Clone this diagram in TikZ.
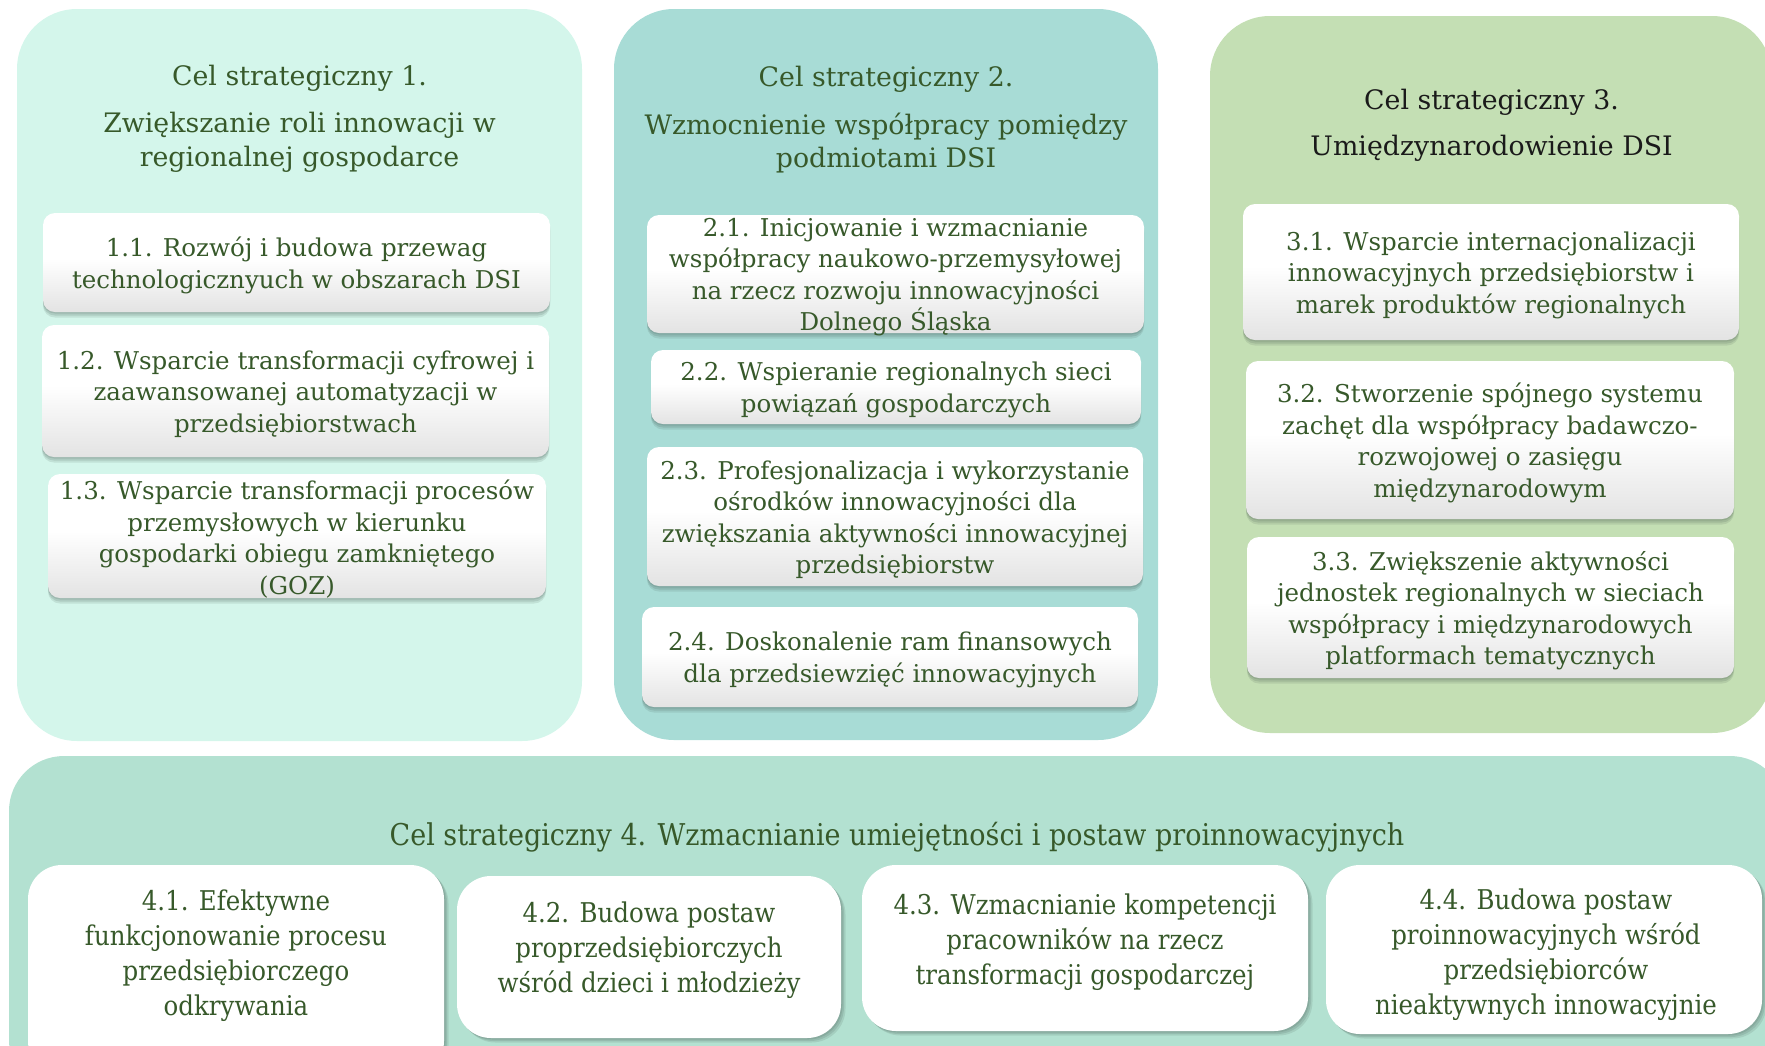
\documentclass[tikz,border=0pt]{standalone}
\usepackage{fontspec}
\setmainfont{DejaVu Serif}
\newfontfamily\bandfam{DejaVu Serif}[FakeStretch=0.9]
\usetikzlibrary{shadows}
\definecolor{pone}{HTML}{D4F6EB}
\definecolor{ptwo}{HTML}{A8DCD6}
\definecolor{pthree}{HTML}{C4DFB4}
\definecolor{pfour}{HTML}{B3E1D1}
\definecolor{txtgreen}{HTML}{37592A}
\definecolor{ttlblack}{HTML}{1A1A1A}
\definecolor{boxgray}{HTML}{E3E3E3}
\definecolor{shd}{HTML}{3A4A44}
\pgfdeclareverticalshading{boxshade}{100bp}{color(0bp)=(boxgray); color(25bp)=(boxgray); color(52bp)=(white); color(100bp)=(white)}
\newcommand\bxfont{\fontsize{24.5}{31.5}\selectfont}
\newcommand\ttlfont{\fontsize{26.8}{33.8}\selectfont}
\newcommand\bandtxt{\bandfam\fontsize{27.2}{34.9}\selectfont}
\newcommand\bandttl{\bandfam\fontsize{30}{36}\selectfont}
\tikzset{
  panel/.style={rounded corners=60pt, draw=none},
  softshadow/.style={
    general shadow={shadow xshift=0pt, shadow yshift=-1.5pt, fill=shd, opacity=0.14},
    general shadow={shadow xshift=0pt, shadow yshift=-3.5pt, fill=shd, opacity=0.14},
    general shadow={shadow xshift=0pt, shadow yshift=-5.5pt, fill=shd, opacity=0.12}},
  bandshadow/.style={
    general shadow={shadow xshift=1.5pt, shadow yshift=-1.5pt, fill=shd, opacity=0.14},
    general shadow={shadow xshift=3pt, shadow yshift=-3pt, fill=shd, opacity=0.14},
    general shadow={shadow xshift=4.5pt, shadow yshift=-4.5pt, fill=shd, opacity=0.12}},
  sbox/.style={rectangle, rounded corners=12pt, shading=boxshade, inner sep=0pt, softshadow},
  stxt/.style={font=\bxfont, text=txtgreen, align=center, inner sep=0pt, yshift=-3pt},
  bbox/.style={rectangle, rounded corners=34pt, fill=white, inner sep=0pt, bandshadow},
  btext/.style={align=center, font=\bandtxt, text=txtgreen, inner sep=0pt},
  ttl/.style={align=center, font=\ttlfont, text=txtgreen, inner sep=0pt}
}
\begin{document}
\begin{tikzpicture}[x=1pt,y=-1pt]
\path[use as bounding box] (0,0) rectangle (1765,1045);
\clip (0,0) rectangle (1765,1045);
% panels
\fill[panel, pone] (17,9) rectangle (582,741);
\fill[panel, ptwo] (614,9) rectangle (1158,740);
\fill[panel, pthree] (1210,16) rectangle (1772,733);
\fill[panel, rounded corners=55pt, pfour] (9,756) rectangle (1785,1095);
% titles
\node[ttl] (t1) at (299.5,119) {Cel strategiczny 1.\\[13.5pt]Zwiększanie roli innowacji w\\regionalnej gospodarce};
\node[ttl] (t2) at (886,120) {Cel strategiczny 2.\\[13.5pt]Wzmocnienie współpracy pomiędzy\\podmiotami DSI};
\node[ttl, text=ttlblack] (t3) at (1491.6,125.5) {Cel strategiczny 3.\\[12pt]Umiędzynarodowienie DSI};
\node[ttl, font=\bandttl] (t4) at (897,837.5) {Cel strategiczny 4. Wzmacnianie umiejętności i postaw proinnowacyjnych};
% column 1
\node[sbox, minimum width=507pt, minimum height=99pt] (b11) at (296.5,262.5) {};
\node[sbox, minimum width=507pt, minimum height=132pt] (b12) at (295.5,391) {};
\node[sbox, minimum width=498pt, minimum height=124pt] (b13) at (297,536) {};
% column 2
\node[sbox, minimum width=497pt, minimum height=118pt] (b21) at (895.5,274) {};
\node[sbox, minimum width=490pt, minimum height=74pt] (b22) at (896,387) {};
\node[sbox, minimum width=496pt, minimum height=139pt] (b23) at (895,516.5) {};
\node[sbox, minimum width=496pt, minimum height=100pt] (b24) at (890,657) {};
% column 3
\node[sbox, minimum width=496pt, minimum height=136pt] (b31) at (1491,272) {};
\node[sbox, minimum width=488pt, minimum height=158pt] (b32) at (1490,440) {};
\node[sbox, minimum width=487pt, minimum height=141pt] (b33) at (1490.5,607.5) {};
% texts of the upper boxes
\node[stxt] (x11) at (b11) {1.1. Rozwój i budowa przewag\\technologicznyuch w obszarach DSI};
\node[stxt] (x12) at (b12) {1.2. Wsparcie transformacji cyfrowej i\\zaawansowanej automatyzacji w\\przedsiębiorstwach};
\node[stxt] (x13) at (b13) {1.3. Wsparcie transformacji procesów\\przemysłowych w kierunku\\gospodarki obiegu zamkniętego\\(GOZ)};
\node[stxt] (x21) at (b21) {2.1. Inicjowanie i wzmacnianie\\współpracy naukowo-przemysyłowej\\na rzecz rozwoju innowacyjności\\Dolnego Śląska};
\node[stxt] (x22) at (b22) {2.2. Wspieranie regionalnych sieci\\powiązań gospodarczych};
\node[stxt] (x23) at (b23) {2.3. Profesjonalizacja i wykorzystanie\\ośrodków innowacyjności dla\\zwiększania aktywności innowacyjnej\\przedsiębiorstw};
\node[stxt] (x24) at (b24) {2.4. Doskonalenie ram finansowych\\dla przedsiewzięć innowacyjnych};
\node[stxt] (x31) at (b31) {3.1. Wsparcie internacjonalizacji\\innowacyjnych przedsiębiorstw i\\marek produktów regionalnych};
\node[stxt] (x32) at (b32) {3.2. Stworzenie spójnego systemu\\zachęt dla współpracy badawczo-\\rozwojowej o zasięgu\\międzynarodowym};
\node[stxt] (x33) at (b33) {3.3. Zwiększenie aktywności\\jednostek regionalnych w sieciach\\współpracy i międzynarodowych\\platformach tematycznych};
% band boxes
\node[bbox, minimum width=416pt, minimum height=210pt] (b41) at (236,970) {};
\node[bbox, minimum width=384pt, minimum height=162pt] (b42) at (649,957) {};
\node[bbox, minimum width=446pt, minimum height=166pt] (b43) at (1085,948) {};
\node[bbox, minimum width=436pt, minimum height=169pt] (b44) at (1544,949.5) {};
\node[btext] (x41) at (236,955.5) {4.1. Efektywne\\funkcjonowanie procesu\\przedsiębiorczego\\odkrywania};
\node[btext] (x42) at (649,950.5) {4.2. Budowa postaw\\proprzedsiębiorczych\\wśród dzieci i młodzieży};
\node[btext] (x43) at (1085,942.5) {4.3. Wzmacnianie kompetencji\\pracowników na rzecz\\transformacji gospodarczej};
\node[btext] (x44) at (1546,955) {4.4. Budowa postaw\\proinnowacyjnych wśród\\przedsiębiorców\\nieaktywnych innowacyjnie};
\end{tikzpicture}
\end{document}
